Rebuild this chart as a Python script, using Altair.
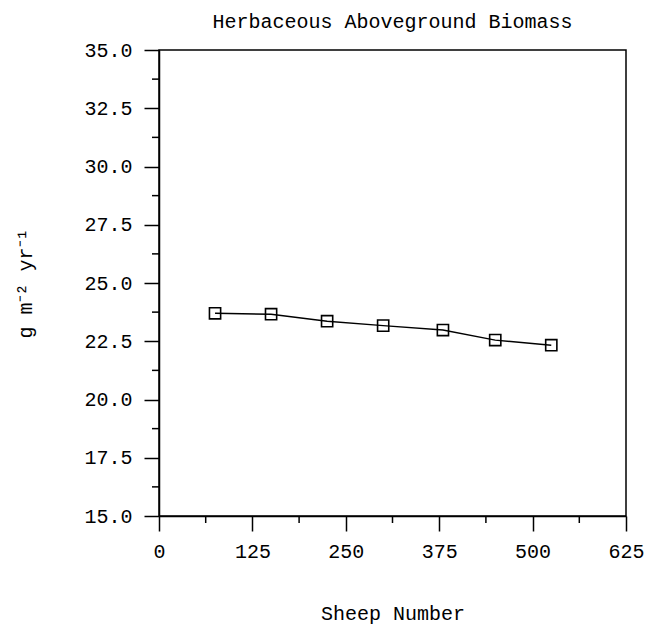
import altair as alt
import pandas as pd

sheep = [75, 150, 225, 300, 380, 450, 525]
biomass = [23.70, 23.66, 23.36, 23.17, 22.98, 22.55, 22.33]
x_major = [0, 125, 250, 375, 500, 625]
x_minor = [62.5, 187.5, 312.5, 437.5, 562.5]
y_major = [15.0, 17.5, 20.0, 22.5, 25.0, 27.5, 30.0, 32.5, 35.0]
y_minor = [16.25, 18.75, 21.25, 23.75, 26.25, 28.75, 31.25, 33.75]

df = pd.DataFrame({"sheep": sheep, "biomass": biomass})
FONT = "Liberation Mono"
FS = 20

xs = alt.Scale(domain=[0, 625], nice=False, zero=False)
ys = alt.Scale(domain=[15, 35], nice=False, zero=False)

W, H = 467, 466

base = alt.Chart(df)
line = base.mark_line(color="black", strokeWidth=1.4).encode(
    x=alt.X("sheep:Q", scale=xs,
            axis=alt.Axis(values=x_major, title="Sheep Number", format="d",
                          tickSize=15, labelPadding=10, titlePadding=42,
                          labelFlush=False, grid=False)),
    y=alt.Y("biomass:Q", scale=ys,
            axis=alt.Axis(values=y_major, title="g m⁻² yr⁻¹", format=".1f",
                          tickSize=15, labelPadding=12, titlePadding=48,
                          labelFlush=False, grid=False)),
)
pts = base.mark_point(shape="square", filled=False, color="black", size=125,
                      strokeWidth=1.6, opacity=1).encode(
    x=alt.X("sheep:Q", scale=xs),
    y=alt.Y("biomass:Q", scale=ys),
)
xminor = alt.Chart(pd.DataFrame({"v": x_minor})).mark_rule(color="black", strokeWidth=1.5, clip=False).encode(
    x=alt.X("v:Q", scale=xs),
    y=alt.value(H), y2=alt.value(H + 7),
)
yminor = alt.Chart(pd.DataFrame({"v": y_minor})).mark_rule(color="black", strokeWidth=1.5, clip=False).encode(
    y=alt.Y("v:Q", scale=ys),
    x=alt.value(-7), x2=alt.value(0),
)

chart = alt.layer(line, pts, xminor, yminor).properties(
    width=W, height=H,
    background="white",
    title=alt.TitleParams("Herbaceous Aboveground Biomass", font=FONT, fontSize=FS,
                          fontWeight="normal", color="black", anchor="middle", offset=8),
    autosize=alt.AutoSizeParams(type="none"),
    padding={"left": 159, "top": 50, "right": 30, "bottom": 108},
).configure_view(stroke="black", strokeWidth=1.5).configure_axis(
    domainColor="black", tickColor="black", domainWidth=1.5, tickWidth=1.5,
    labelFont=FONT, titleFont=FONT, labelFontSize=FS, titleFontSize=FS,
    labelColor="black", titleColor="black", titleFontWeight="normal",
)

chart.save("out.html", embed_options={"renderer": "svg", "actions": False})
